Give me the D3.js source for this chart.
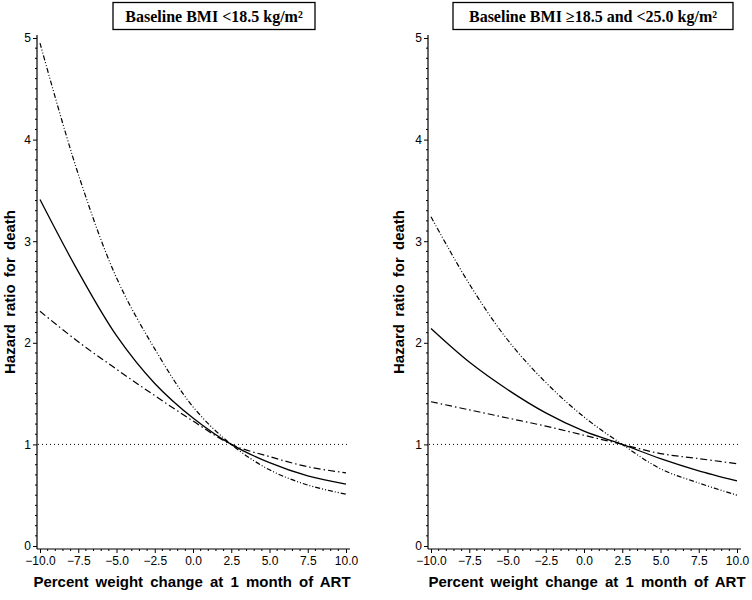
<!DOCTYPE html>
<html lang="en">
<head>
    <meta charset="UTF-8">
    <title>Hazard ratio for death by weight change</title>
    <script src="https://d3js.org/d3.v7.min.js"></script>
    <style>
        body {
            margin: 0;
            background: #fff;
        }
        .tick-label {
            font-family: "Liberation Sans", Arial, sans-serif;
            font-size: 12px;
            fill: #000;
        }
        .axis-title {
            font-family: "Liberation Sans", Arial, sans-serif;
            font-size: 15px;
            font-weight: bold;
            word-spacing: 3px;
            fill: #000;
        }
        .panel-title {
            font-family: "Liberation Serif", "Times New Roman", serif;
            font-size: 16px;
            font-weight: bold;
            fill: #000;
        }
    </style>
</head>
<body>
    <svg id="chart" width="752" height="600"></svg>

    <script>
        // Percent weight change at which the curves were read
        const weightChange = [-10, -7.5, -5, -2.5, 0, 2.5, 5, 7.5, 10];

        const xTickValues = [-10, -7.5, -5, -2.5, 0, 2.5, 5, 7.5, 10];
        const yTickValues = [0, 1, 2, 3, 4, 5];

        const panelTitles = [
            "Baseline BMI <18.5 kg/m\u00B2",
            "Baseline BMI \u226518.5 and <25.0 kg/m\u00B2"
        ];

        // Panel 1: baseline BMI < 18.5
        const hrUnder = [3.41, 2.70, 2.07, 1.60, 1.26, 1.00, 0.82, 0.69, 0.61];
        const upperUnder = [4.95, 3.66, 2.64, 1.94, 1.37, 1.00, 0.75, 0.60, 0.51];
        const lowerUnder = [2.31, 2.01, 1.74, 1.48, 1.23, 1.00, 0.88, 0.78, 0.72];

        // Panel 2: baseline BMI 18.5 - 25.0
        const hrNormal = [2.14, 1.81, 1.54, 1.31, 1.13, 1.00, 0.86, 0.74, 0.64];
        const upperNormal = [3.24, 2.58, 2.03, 1.61, 1.27, 1.00, 0.76, 0.62, 0.50];
        const lowerNormal = [1.42, 1.34, 1.26, 1.18, 1.09, 1.00, 0.91, 0.86, 0.81];

        const referenceHR = 1;

        // Layout
        const svg = d3.select("#chart");
        const yTop = 38, yZero = 546, xAxisY = 549;

        const panels = [
            {
                axisX: 37, titleX: 214, titleW: 202, yLabelX: 15, xLabelX: 192,
                title: panelTitles[0], hr: hrUnder, upper: upperUnder, lower: lowerUnder
            },
            {
                axisX: 428, titleX: 593, titleW: 280, yLabelX: 404, xLabelX: 587,
                title: panelTitles[1], hr: hrNormal, upper: upperNormal, lower: lowerNormal
            }
        ];

        const yScale = d3.scaleLinear()
            .domain([0, 5])
            .range([yZero, yTop]);

        const fmtX = d3.format(".1f");

        function drawPanel(p) {
            const g = svg.append("g");

            const xScale = d3.scaleLinear()
                .domain([-10, 10])
                .range([p.axisX + 3, p.axisX + 309]);

            // Title box
            g.append("rect")
                .attr("x", p.titleX - p.titleW / 2)
                .attr("y", 2.5)
                .attr("width", p.titleW)
                .attr("height", 27)
                .attr("fill", "#fff")
                .attr("stroke", "#000")
                .attr("stroke-width", 1.3);

            g.append("text")
                .attr("class", "panel-title")
                .attr("x", p.titleX)
                .attr("y", 22)
                .attr("text-anchor", "middle")
                .text(p.title);

            // Y axis
            const yAxis = d3.axisLeft(yScale)
                .tickValues(yTickValues)
                .tickSize(4)
                .tickPadding(2)
                .tickFormat(d3.format("d"));

            const yg = g.append("g")
                .attr("transform", `translate(${p.axisX},0)`)
                .call(yAxis);
            yg.select(".domain").remove();
            yg.selectAll("text").attr("class", "tick-label").attr("font-size", null).attr("font-family", null);

            // Minor y ticks every 0.1
            const yMinor = d3.range(0, 50).map(i => i / 10).filter(v => v % 1 !== 0);
            g.append("g")
                .selectAll("line")
                .data(yMinor)
                .join("line")
                .attr("x1", p.axisX - 2)
                .attr("x2", p.axisX)
                .attr("y1", d => yScale(d))
                .attr("y2", d => yScale(d))
                .attr("stroke", "#000")
                .attr("stroke-width", 1);

            g.append("line")
                .attr("x1", p.axisX).attr("x2", p.axisX)
                .attr("y1", yTop - 3).attr("y2", xAxisY)
                .attr("stroke", "#000")
                .attr("stroke-width", 1.2);

            // X axis
            const xAxis = d3.axisBottom(xScale)
                .tickValues(xTickValues)
                .tickSize(4)
                .tickPadding(3)
                .tickFormat(fmtX);

            const xg = g.append("g")
                .attr("transform", `translate(0,${xAxisY})`)
                .call(xAxis);
            xg.select(".domain").remove();
            xg.selectAll("text").attr("class", "tick-label").attr("font-size", null).attr("font-family", null);

            const xMinor = d3.range(-20, 21).map(i => i / 2).filter(v => !xTickValues.includes(v));
            g.append("g")
                .selectAll("line")
                .data(xMinor)
                .join("line")
                .attr("x1", d => xScale(d))
                .attr("x2", d => xScale(d))
                .attr("y1", xAxisY)
                .attr("y2", xAxisY + 2)
                .attr("stroke", "#000")
                .attr("stroke-width", 1);

            g.append("line")
                .attr("x1", p.axisX).attr("x2", p.axisX + 313)
                .attr("y1", xAxisY).attr("y2", xAxisY)
                .attr("stroke", "#000")
                .attr("stroke-width", 1.2);

            // Reference line at HR = 1
            g.append("line")
                .attr("x1", p.axisX + 1)
                .attr("x2", p.axisX + 313)
                .attr("y1", yScale(referenceHR))
                .attr("y2", yScale(referenceHR))
                .attr("stroke", "#000")
                .attr("stroke-width", 1)
                .attr("stroke-dasharray", "1,3");

            // Curves
            const line = d3.line()
                .x((d, i) => xScale(weightChange[i]))
                .y(d => yScale(d))
                .curve(d3.curveCatmullRom.alpha(0.5));

            g.append("path")
                .datum(p.upper)
                .attr("d", line)
                .attr("fill", "none")
                .attr("stroke", "#000")
                .attr("stroke-width", 1.2)
                .attr("stroke-dasharray", "5,2,1,2,1,2");

            g.append("path")
                .datum(p.lower)
                .attr("d", line)
                .attr("fill", "none")
                .attr("stroke", "#000")
                .attr("stroke-width", 1.2)
                .attr("stroke-dasharray", "7,3,1.5,3");

            g.append("path")
                .datum(p.hr)
                .attr("d", line)
                .attr("fill", "none")
                .attr("stroke", "#000")
                .attr("stroke-width", 1.3);

            // Axis titles
            g.append("text")
                .attr("class", "axis-title")
                .attr("transform", `translate(${p.yLabelX},292) rotate(-90)`)
                .attr("text-anchor", "middle")
                .text("Hazard ratio for death");

            g.append("text")
                .attr("class", "axis-title")
                .attr("x", p.xLabelX)
                .attr("y", 587)
                .attr("text-anchor", "middle")
                .text("Percent weight change at 1 month of ART");
        }

        panels.forEach(drawPanel);
    </script>
</body>
</html>
